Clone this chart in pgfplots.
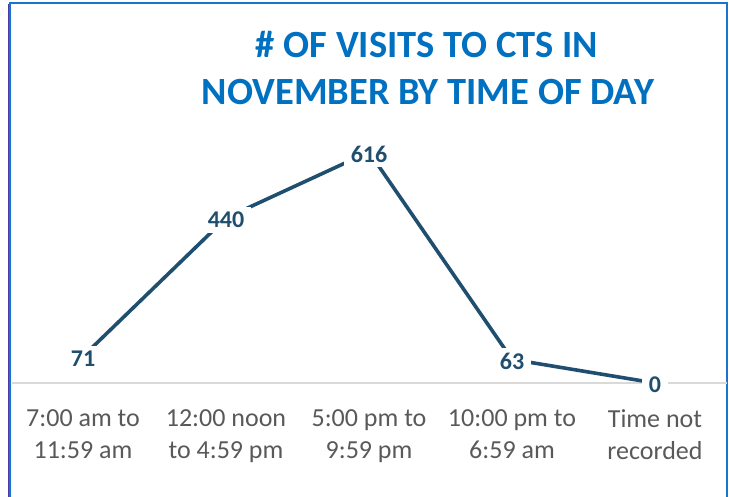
\documentclass[border=0pt]{standalone}
\usepackage{pgfplots}
\pgfplotsset{compat=1.18}
\usepackage{fontspec}
\setmainfont{Carlito}
\definecolor{titleblue}{HTML}{0070C0}
\definecolor{frameblue}{HTML}{1A73CF}
\definecolor{framepurple}{HTML}{4B3AA0}
\definecolor{linecol}{HTML}{1F4E6F}
\definecolor{catgray}{HTML}{595959}
\definecolor{basegray}{HTML}{D9D9D9}
\begin{document}
\begin{tikzpicture}
\useasboundingbox (0,0) rectangle (729bp,497bp);
% frame
\draw[framepurple, line width=1bp] (8.5bp,0) -- (8.5bp,493bp);
\draw[frameblue, line width=2.5bp] (10bp,0) -- (10bp,494bp) -- (727bp,494bp) -- (727bp,0);
% title
\node[anchor=base, text=titleblue, font=\fontsize{38.5bp}{47bp}\selectfont\bfseries] at (427bp,439bp) {\# OF VISITS TO CTS IN};
\node[anchor=base, text=titleblue, font=\fontsize{38.5bp}{47bp}\selectfont\bfseries] at (428bp,392bp) {NOVEMBER BY TIME OF DAY};
\begin{axis}[
  at={(11.5bp,114bp)}, anchor=south west,
  scale only axis, width=715bp, height=262.5bp,
  xmin=-0.5, xmax=4.5, ymin=0, ymax=700,
  axis y line=none,
  axis x line*=bottom,
  x axis line style={basegray, line width=1.5bp},
  xtick={0,1,2,3,4},
  xticklabels={{7:00 am to\\11:59 am},{12:00 noon\\to 4:59 pm},{5:00 pm to\\9:59 pm},{10:00 pm to\\6:59 am},{Time not\\recorded}},
  major tick length=0pt,
  xticklabel style={align=center, text=catgray, font=\fontsize{26bp}{32bp}\selectfont, yshift=-23bp},
  clip=false,
  nodes near coords,
  /pgf/number format/assume math mode=true,
  every node near coord/.append style={anchor=center, fill=white, inner xsep=7bp, inner ysep=5bp, yshift=-2bp, text=linecol, font=\fontsize{24bp}{28bp}\selectfont\bfseries},
]
\addplot[linecol, line width=3.6bp, mark=none] coordinates {(0,71) (1,440) (2,616) (3,63) (4,0)};
\end{axis}
\end{tikzpicture}
\end{document}
